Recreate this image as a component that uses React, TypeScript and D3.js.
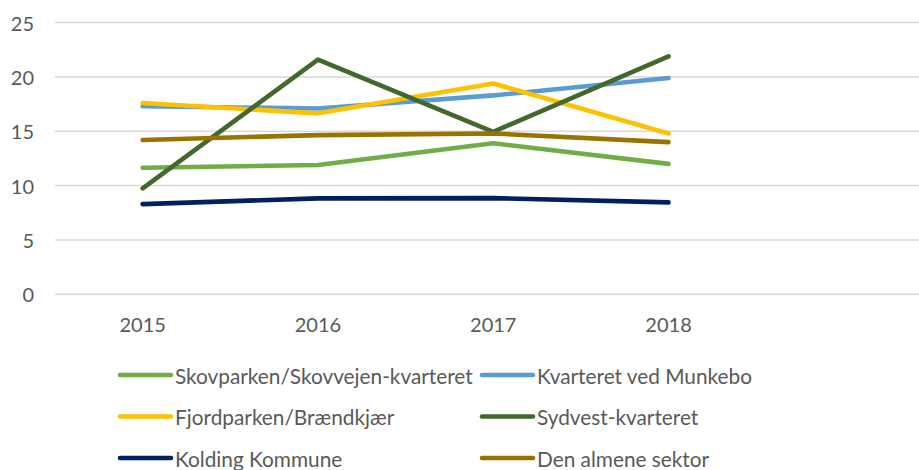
import React from "react";
import * as d3 from "d3";

const years = ["2015", "2016", "2017", "2018"];
const slots = ["2015", "2016", "2017", "2018", ""];
const yTicks = [0, 5, 10, 15, 20, 25];

const seriesNames = [
  "Skovparken/Skovvejen-kvarteret",
  "Kvarteret ved Munkebo",
  "Fjordparken/Brændkjær",
  "Sydvest-kvarteret",
  "Kolding Kommune",
  "Den almene sektor",
];
const skovparken = [11.65, 11.9, 13.9, 12.0];
const munkebo = [17.3, 17.1, 18.3, 19.9];
const fjordparken = [17.6, 16.65, 19.4, 14.8];
const sydvest = [9.75, 21.6, 14.95, 21.9];
const kolding = [8.3, 8.83, 8.85, 8.46];
const almene = [14.2, 14.65, 14.8, 14.0];
const seriesValues = [skovparken, munkebo, fjordparken, sydvest, kolding, almene];
const seriesColors = ["#70AD47", "#5B9BD5", "#FFC000", "#43682B", "#002060", "#997300"];

const W = 919;
const H = 470;
const FONT = "Lato, 'Open Sans', sans-serif";

export default function App() {
  const x = d3.scaleBand<string>().domain(slots).range([55, 931.5]);
  const y = d3.scaleLinear().domain([0, 25]).range([294.3, 22.6]);
  const line = d3
    .line<number>()
    .x((_, i) => (x(years[i]) as number) + x.bandwidth() / 2)
    .y((d) => y(d));

  const legendCols = [120, 482];
  const legendRows = [375, 416.5, 458];

  return (
    <svg
      width={W}
      height={H}
      style={{ position: "absolute", left: 0, top: 0, background: "#fff" }}
      fontFamily={FONT}
    >
      {yTicks.map((t) => (
        <g key={t}>
          <line x1={55} x2={W} y1={y(t)} y2={y(t)} stroke="#D9D9D9" strokeWidth={1.5} />
          <text
            x={34}
            y={y(t)}
            textAnchor="end"
            dominantBaseline="central"
            fontSize={20}
            fill="#595959"
          >
            {t}
          </text>
        </g>
      ))}
      {years.map((yr) => (
        <text
          key={yr}
          x={(x(yr) as number) + x.bandwidth() / 2}
          y={323.5}
          textAnchor="middle"
          dominantBaseline="central"
          fontSize={20}
          fill="#595959"
        >
          {yr}
        </text>
      ))}
      {seriesValues.map((vals, i) => (
        <path
          key={i}
          d={line(vals) || ""}
          fill="none"
          stroke={seriesColors[i]}
          strokeWidth={4.6}
          strokeLinecap="round"
          strokeLinejoin="round"
        />
      ))}
      {seriesNames.map((name, i) => {
        const lx = legendCols[i % 2];
        const ly = legendRows[Math.floor(i / 2)];
        return (
          <g key={name}>
            <line
              x1={lx}
              x2={lx + 51}
              y1={ly}
              y2={ly}
              stroke={seriesColors[i]}
              strokeWidth={4.6}
              strokeLinecap="round"
            />
            <text
              x={lx + 55}
              y={ly}
              dominantBaseline="central"
              fontSize={20.8}
              fill="#595959"
            >
              {name}
            </text>
          </g>
        );
      })}
    </svg>
  );
}
